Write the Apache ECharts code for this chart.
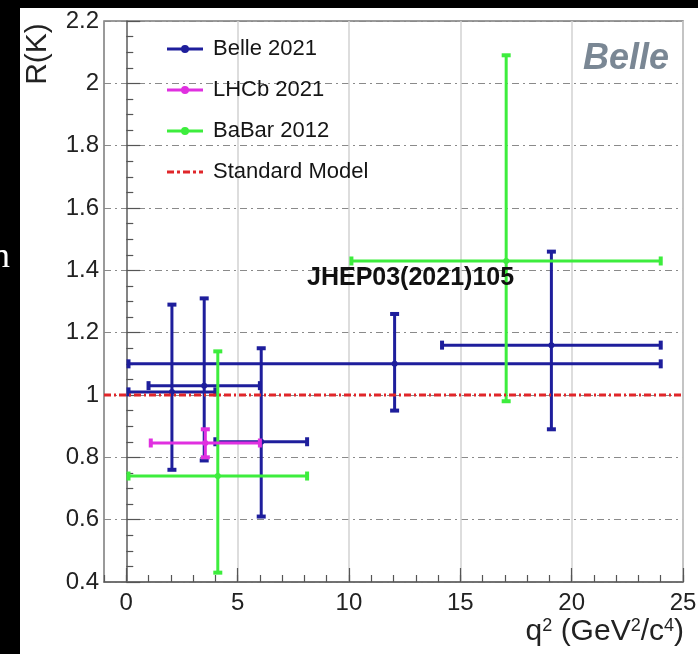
<!DOCTYPE html>
<html><head><meta charset="utf-8">
<script src="https://cdn.jsdelivr.net/npm/echarts@6/dist/echarts.min.js"></script>
<style>html,body{margin:0;padding:0;background:#fff}#c{width:698px;height:654px}</style>
</head><body><div id="c"></div>
<script>
// ---- data ----
const seriesNames = ['Belle 2021', 'LHCb 2021', 'BaBar 2012', 'Standard Model'];
const xTickLabels = [0, 5, 10, 15, 20, 25];
const yTickLabels = [0.4, 0.6, 0.8, 1.0, 1.2, 1.4, 1.6, 1.8, 2.0, 2.2];

const belleX   = [2.05, 6.06, 3.5, 12.05, 19.09];
const belleXlo = [0.1, 4.0, 1.0, 0.1, 14.18];
const belleXhi = [4.0, 8.12, 6.0, 24.0, 24.0];
const belleY   = [1.01, 0.85, 1.03, 1.10, 1.16];
const belleYlo = [0.76, 0.61, 0.79, 0.95, 0.89];
const belleYhi = [1.29, 1.15, 1.31, 1.26, 1.46];

const lhcbX   = [3.55];
const lhcbXlo = [1.1];
const lhcbXhi = [6.0];
const lhcbY   = [0.846];
const lhcbYlo = [0.80];
const lhcbYhi = [0.89];

const babarX   = [4.11, 17.06];
const babarXlo = [0.1, 10.11];
const babarXhi = [8.12, 24.0];
const babarY   = [0.74, 1.43];
const babarYlo = [0.43, 0.98];
const babarYhi = [1.14, 2.09];

const smX = [-1, 25];
const smY = [1.0, 1.0];

// ---- styling ----
const BLUE = '#1e1e9c', MAG = '#e030e0', GREEN = '#3ded3d', RED = '#e0262a';
const FONT = "'Liberation Sans', Arial, Helvetica, sans-serif";

function rows(x, xl, xh, y, yl, yh) {
  return x.map((v, i) => [v, y[i], xl[i], xh[i], yl[i], yh[i]]);
}
function errItem(color) {
  return function (params, api) {
    const x = api.value(0), y = api.value(1), xl = api.value(2), xh = api.value(3), yl = api.value(4), yh = api.value(5);
    const c = api.coord([x, y]), L = api.coord([xl, y]), R = api.coord([xh, y]);
    const T = api.coord([x, yh]), B = api.coord([x, yl]);
    const st = { stroke: color, lineWidth: 3 };
    const cs = { stroke: color, lineWidth: 4 };
    const cap = 4.5;
    const ln = (x1, y1, x2, y2, s) => ({ type: 'line', shape: { x1, y1, x2, y2 }, style: s });
    return {
      type: 'group', children: [
        ln(L[0], L[1], R[0], R[1], st),
        ln(T[0], T[1], B[0], B[1], st),
        ln(L[0], L[1] - cap, L[0], L[1] + cap, cs),
        ln(R[0], R[1] - cap, R[0], R[1] + cap, cs),
        ln(T[0] - cap, T[1], T[0] + cap, T[1], cs),
        ln(B[0] - cap, B[1], B[0] + cap, B[1], cs),
        { type: 'circle', shape: { cx: c[0], cy: c[1], r: 3 }, style: { fill: color } }
      ]
    };
  };
}
const markerIcon = 'path://M0,2.5L36,2.5L36,5.5L0,5.5Z M22,4A4,4 0 1 1 14,4A4,4 0 1 1 22,4Z';
const smIcon = 'path://M0,2.5h7v3h-7z M10,2.5h3v3h-3z M16,2.5h7v3h-7z M26,2.5h3v3h-3z M32,2.5h4v3h-4z';

const chart = echarts.init(document.getElementById('c'), null, { renderer: 'canvas' });
chart.setOption({
  backgroundColor: '#fff',
  animation: false,
  grid: { left: 104, right: 15, top: 21, bottom: 72, show: true, borderColor: '#7a7a7a', borderWidth: 1.5, outerBoundsMode: 'none', containLabel: false },
  xAxis: [
    { type: 'value', position: 'bottom', min: -1, max: 25, interval: 1,
      axisLine: { show: true, lineStyle: { color: '#666', width: 1.5 } },
      axisTick: { show: true, inside: true, length: 7, lineStyle: { color: '#555', width: 1.2 } },
      axisLabel: { show: false }, splitLine: { show: false } },
    { type: 'value', position: 'bottom', min: -1, max: 25,
      axisLine: { show: false },
      axisTick: { show: true, inside: true, length: 14, customValues: xTickLabels, lineStyle: { color: '#555', width: 1.2 } },
      axisLabel: { show: true, customValues: xTickLabels, fontSize: 24, color: '#222', margin: 9, fontFamily: FONT },
      splitLine: { show: true, lineStyle: { color: '#d2d2d2', width: 1.5 } } }
  ],
  yAxis: {
    type: 'value', min: 0.4, max: 2.2, interval: 0.2,
    axisLine: { show: true, lineStyle: { color: '#666', width: 1.5 } },
    axisTick: { show: true, inside: true, length: 14, lineStyle: { color: '#555', width: 1.2 } },
    minorTick: { show: true, splitNumber: 4, length: 7, lineStyle: { color: '#555', width: 1.2 } },
    axisLabel: { fontSize: 24, color: '#222', margin: 5, fontFamily: FONT,
      formatter: v => String(+v.toFixed(2)) },
    splitLine: { show: true, lineStyle: { color: '#8a8a8a', width: 1, type: [7, 4, 2, 4] } }
  },
  legend: {
    orient: 'vertical', left: 167, top: 38, padding: 0, itemWidth: 36, itemHeight: 8, itemGap: 19,
    selectedMode: false,
    textStyle: { fontSize: 22, color: '#151515', fontFamily: FONT, padding: [0, 0, 0, 5] },
    itemStyle: { borderWidth: 0 },
    data: [
      { name: seriesNames[0], icon: markerIcon },
      { name: seriesNames[1], icon: markerIcon },
      { name: seriesNames[2], icon: markerIcon },
      { name: seriesNames[3], icon: smIcon }
    ]
  },
  series: [
    { type: 'custom', name: seriesNames[0], xAxisIndex: 0, yAxisIndex: 0, z: 2,
      data: rows(belleX, belleXlo, belleXhi, belleY, belleYlo, belleYhi),
      encode: { x: [0, 2, 3], y: [1, 4, 5] }, renderItem: errItem(BLUE), itemStyle: { color: BLUE } },
    { type: 'custom', name: seriesNames[2], xAxisIndex: 0, yAxisIndex: 0, z: 3,
      data: rows(babarX, babarXlo, babarXhi, babarY, babarYlo, babarYhi),
      encode: { x: [0, 2, 3], y: [1, 4, 5] }, renderItem: errItem(GREEN), itemStyle: { color: GREEN } },
    { type: 'custom', name: seriesNames[1], xAxisIndex: 0, yAxisIndex: 0, z: 4,
      data: rows(lhcbX, lhcbXlo, lhcbXhi, lhcbY, lhcbYlo, lhcbYhi),
      encode: { x: [0, 2, 3], y: [1, 4, 5] }, renderItem: errItem(MAG), itemStyle: { color: MAG } },
    { type: 'line', name: seriesNames[3], xAxisIndex: 0, yAxisIndex: 0, z: 5,
      data: smX.map((x, i) => [x, smY[i]]), symbol: 'none',
      lineStyle: { color: RED, width: 3, type: [7, 3, 2, 3] }, itemStyle: { color: RED } }
  ],
  graphic: [
    { type: 'rect', left: 0, top: 0, shape: { width: 20, height: 654 }, style: { fill: '#000' }, z: 100 },
    { type: 'rect', left: 0, top: 0, shape: { width: 698, height: 8 }, style: { fill: '#000' }, z: 100 },
    { type: 'text', x: 10, y: 258, z: 101, style: { text: 'n', font: "36px 'Liberation Serif', serif", fill: '#fff', align: 'right', verticalAlign: 'middle' } },
    { type: 'text', x: 38, y: 54, rotation: Math.PI / 2, z: 101,
      style: { text: 'R(K)', font: "30px " + FONT, fill: '#222', align: 'center', verticalAlign: 'middle' } },
    { type: 'text', x: 669, y: 59, z: 101,
      style: { text: 'Belle', font: "italic bold 36px " + FONT, fill: '#7a8794', align: 'right', verticalAlign: 'middle' } },
    { type: 'text', x: 307, y: 278, z: 101,
      style: { text: 'JHEP03(2021)105', font: "bold 25px " + FONT, fill: '#111', align: 'left', verticalAlign: 'middle' } },
    { type: 'text', x: 684, y: 632, z: 101,
      style: { text: 'q{s|2} (GeV{s|2}/c{s|4})', font: "30px " + FONT, fill: '#222', align: 'right', verticalAlign: 'middle',
        rich: { s: { fontSize: 18, fontFamily: FONT, fill: '#222', verticalAlign: 'top' } } } }
  ]
});
</script></body></html>
